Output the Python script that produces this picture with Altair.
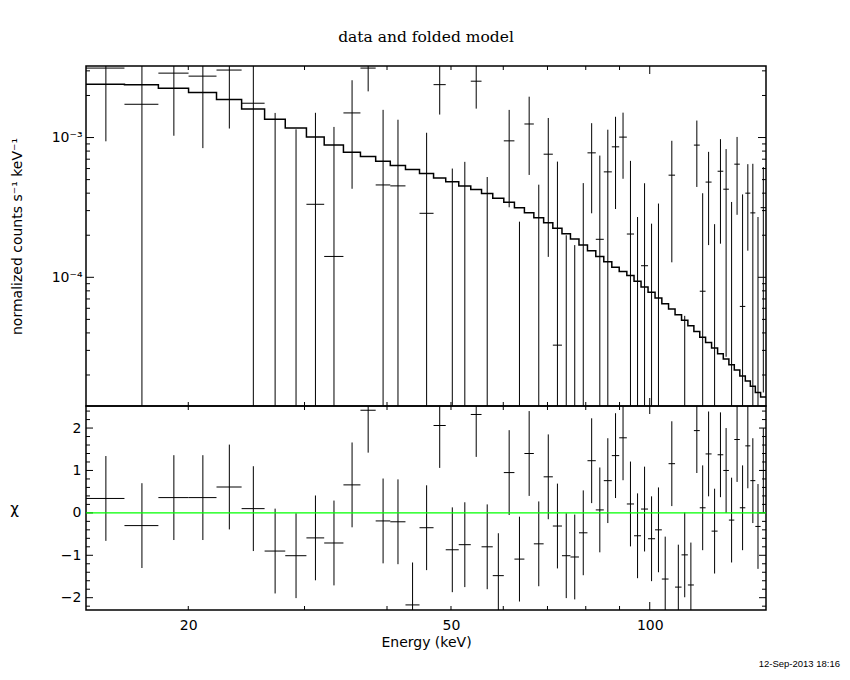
import altair as alt
import numpy as np
import pandas as pd

# ---------------- data ----------------
edges = [14.00, 16.01, 18.02, 20.02, 22.07, 24.09, 26.10, 28.05, 30.20, 32.13,
         34.36, 36.46, 38.45, 40.46, 42.66, 44.80, 47.05, 49.09, 51.37, 53.57,
         55.62, 57.84, 60.11, 62.38, 64.59, 66.75, 69.07, 71.32, 73.63, 75.84,
         78.13, 80.48, 82.85, 85.19, 87.61, 89.90, 92.32, 94.67, 97.01, 99.41,
         101.87, 104.31, 106.78, 109.23, 111.73, 114.22, 116.64, 119.06, 121.50, 124.07,
         126.70, 129.24, 131.79, 134.30, 136.91, 139.56, 142.02, 144.52, 147.21, 150.00]

counts = [3.14e-3, 1.73e-3, 2.89e-3, 2.75e-3, 3.04e-3, 1.76e-3, -2.0e-5, 5.0e-6, 3.33e-4, 1.41e-4,
          1.50e-3, 3.14e-3, 4.58e-4, 4.51e-4, -4.95e-4, 2.87e-4, 2.39e-3, -2.8e-4, -2.1e-4, 2.53e-3,
          -9.8e-5, -7.57e-4, 9.47e-4, -4.8e-4, 1.25e-3, -2.5e-4, 7.6e-4, 3.27e-5, -4.0e-4, -3.8e-4,
          -9.8e-5, 7.77e-4, 1.87e-4, 5.68e-4, 8.58e-4, 1.007e-3, 2.04e-4, -1.1e-4, 1.21e-4, -1.78e-4,
          -1.06e-4, -5.6e-4, 5.38e-4, -5.6e-4, -2.97e-4, -5.5e-4, 8.83e-4, 7.95e-5, 4.8e-4, -1.26e-4,
          5.74e-4, 4.27e-4, -4.2e-5, 6.45e-4, 6.19e-5, 4.0e-4, 2.89e-4, -1.05e-4, 3.15e-4]

errors = [2.2e-3, 2.2e-3, 1.86e-3, 1.91e-3, 1.88e-3, 1.9e-3, 1.52e-3, 1.14e-3, 1.17e-3, 1.05e-3,
          1.07e-3, 1.0e-3, 1.12e-3, 0.89e-3, 5.0e-4, 7.95e-4, 0.93e-3, 8.8e-4, 8.8e-4, 0.92e-3,
          6.2e-4, 7.6e-4, 6.3e-4, 7.3e-4, 7.1e-4, 7.1e-4, 6.2e-4, 6.4e-4, 6.0e-4, 5.5e-4,
          5.7e-4, 4.9e-4, 5.56e-4, 5.7e-4, 5.5e-4, 5.0e-4, 4.77e-4, 3.8e-4, 3.5e-4, 4.2e-4,
          4.43e-4, 4.0e-4, 4.1e-4, 3.5e-4, 3.5e-4, 3.5e-4, 4.4e-4, 3.2e-4, 3.1e-4, 3.66e-4,
          4.0e-4, 4.0e-4, 3.88e-4, 3.65e-4, 3.3e-4, 2.45e-4, 3.6e-4, 3.75e-4, 3.0e-4]

model = [2.41e-3, 2.39e-3, 2.25e-3, 2.10e-3, 1.87e-3, 1.60e-3, 1.35e-3, 1.17e-3, 1.01e-3, 8.83e-4,
         7.86e-4, 7.31e-4, 6.78e-4, 6.30e-4, 5.90e-4, 5.52e-4, 5.14e-4, 4.82e-4, 4.50e-4, 4.25e-4,
         3.98e-4, 3.68e-4, 3.44e-4, 3.15e-4, 2.90e-4, 2.67e-4, 2.46e-4, 2.24e-4, 2.05e-4, 1.88e-4,
         1.70e-4, 1.55e-4, 1.41e-4, 1.29e-4, 1.18e-4, 1.10e-4, 1.03e-4, 9.36e-5, 8.51e-5, 7.81e-5,
         7.12e-5, 6.47e-5, 5.93e-5, 5.40e-5, 4.92e-5, 4.50e-5, 4.10e-5, 3.73e-5, 3.42e-5, 3.12e-5,
         2.84e-5, 2.60e-5, 2.37e-5, 2.17e-5, 1.97e-5, 1.81e-5, 1.66e-5, 1.50e-5, 1.39e-5]

chi = [0.34, -0.30, 0.36, 0.36, 0.61, 0.10, -0.90, -1.01, -0.59, -0.71,
       0.66, 2.42, -0.19, -0.21, -2.17, -0.35, 2.06, -0.87, -0.75, 2.32,
       -0.80, -1.48, 0.95, -1.09, 1.40, -0.73, 0.85, -0.31, -1.01, -1.04,
       -0.47, 1.23, 0.07, 0.76, 1.35, 1.77, 0.21, -0.54, 0.09, -0.61,
       -0.40, -1.56, 1.16, -1.75, -0.99, -1.70, 1.94, 0.12, 1.39, -0.43,
       1.37, 1.00, -0.17, 1.73, 0.12, 1.58, 0.76, -0.32, 1.00]

x_labels = [20, 50, 100]
x_minor = [20, 30, 40, 50, 60, 70, 80, 90]
x_major = [100]
y_labels = [1e-4, 1e-3]
y_minor = [2e-5, 3e-5, 4e-5, 5e-5, 6e-5, 7e-5, 8e-5, 9e-5,
           2e-4, 3e-4, 4e-4, 5e-4, 6e-4, 7e-4, 8e-4, 9e-4, 2e-3, 3e-3]
y_major = [1e-4, 1e-3]
c_labels = [-2, -1, 0, 1, 2]
c_minor = [-2.2, -1.8, -1.6, -1.4, -1.2, -0.8, -0.6, -0.4, -0.2,
           0.2, 0.4, 0.6, 0.8, 1.2, 1.4, 1.6, 1.8, 2.2, 2.4]
c_major = [-2, -1, 0, 1, 2]

EMIN, EMAX = 14.0, 150.0
YMIN, YMAX = 1.2e-5, 3.25e-3
CMIN, CMAX = -2.29, 2.52

W, H1, H2 = 680, 340, 204
FONT = "DejaVu Sans"

# ---------------- tables ----------------
lo = np.array(edges[:-1])
hi = np.array(edges[1:])
df = pd.DataFrame({"lo": lo, "hi": hi, "cen": (lo + hi) / 2,
                   "val": counts, "err": errors, "chi": chi})
df["up"] = df["val"] + df["err"]
df["dn"] = (df["val"] - df["err"]).clip(lower=YMIN / 2)
df["clo"] = df["chi"] - 1
df["chi_hi"] = df["chi"] + 1

hbar = df[(df["val"] > YMIN) & (df["val"] < YMAX)]
vbar = df[df["up"] > YMIN]

step = pd.DataFrame({"e": edges, "m": model + [model[-1]]})

xs = alt.Scale(type="log", domain=[EMIN, EMAX], nice=False)
ys = alt.Scale(type="log", domain=[YMIN, YMAX], nice=False)
cs = alt.Scale(domain=[CMIN, CMAX], nice=False, zero=False)

# shared axis definitions (identical in every layer so they merge)
ax_y_top = alt.Axis(values=y_labels,
                    labelExpr="datum.value < 0.0005 ? '10⁻⁴' : '10⁻³'",
                    ticks=False, domain=False, grid=False,
                    labelFontSize=14, labelPadding=4,
                    minExtent=50, maxExtent=50,
                    title="normalized counts s⁻¹ keV⁻¹",
                    titleFontSize=14, titleFontWeight="normal",
                    titlePadding=12)
ax_x_bot = alt.Axis(values=x_labels, format="d", ticks=False, domain=False,
                    grid=False, labelFontSize=14, labelPadding=8,
                    labelFlush=False,
                    title="Energy (keV)", titleFontSize=14,
                    titleFontWeight="normal", titlePadding=3)
ax_y_bot = alt.Axis(values=c_labels, format="d", ticks=False, domain=False,
                    grid=False, labelFontSize=14, labelPadding=5,
                    minExtent=50, maxExtent=50,
                    title="χ", titleAngle=0, titleX=-72, titleY=H2 / 2,
                    titleAlign="center", titleBaseline="middle",
                    titleFontSize=15, titleFontWeight="normal")


def yticks(vals, L, scale, axis, xaxis):
    d = pd.DataFrame({"v": vals})
    b = alt.Chart(d).mark_rule(color="black", strokeWidth=1)
    yenc = alt.Y("v:Q", scale=scale, axis=axis)
    return [b.encode(y=yenc, x=alt.value(0), x2=alt.value(L)),
            b.encode(y=yenc, x=alt.value(W - L), x2=alt.value(W))]


def xticks(vals, L, height, xaxis):
    d = pd.DataFrame({"v": vals})
    b = alt.Chart(d).mark_rule(color="black", strokeWidth=1)
    xenc = alt.X("v:Q", scale=xs, axis=xaxis)
    return [b.encode(x=xenc, y=alt.value(0), y2=alt.value(L)),
            b.encode(x=xenc, y=alt.value(height - L), y2=alt.value(height))]


# ---------------- top panel ----------------
top_model = alt.Chart(step).mark_line(color="black", strokeWidth=1.5,
                                      interpolate="step-after", clip=True).encode(
    x=alt.X("e:Q", scale=xs, axis=None),
    y=alt.Y("m:Q", scale=ys, axis=ax_y_top),
)
top_h = alt.Chart(hbar).mark_rule(color="black", strokeWidth=1, clip=True).encode(
    x=alt.X("lo:Q", scale=xs, axis=None), x2="hi:Q",
    y=alt.Y("val:Q", scale=ys, axis=ax_y_top))
top_v = alt.Chart(vbar).mark_rule(color="black", strokeWidth=1, clip=True).encode(
    x=alt.X("cen:Q", scale=xs, axis=None),
    y=alt.Y("up:Q", scale=ys, axis=ax_y_top), y2="dn:Q")

top_layers = [top_model, top_h, top_v]
top_layers += yticks(y_minor, 4, ys, ax_y_top, None) + yticks(y_major, 8, ys, ax_y_top, None)
top_layers += xticks(x_minor, 4, H1, None) + xticks(x_major, 8, H1, None)

top = alt.layer(*top_layers).properties(
    width=W, height=H1,
    title=alt.TitleParams("data and folded model", font="DejaVu Serif",
                          fontSize=15.5, fontWeight="normal", anchor="middle",
                          frame="group", baseline="alphabetic", offset=8,
                          color="black"))

# ---------------- bottom panel ----------------
bot_h = alt.Chart(df).mark_rule(color="black", strokeWidth=1, clip=True).encode(
    x=alt.X("lo:Q", scale=xs, axis=ax_x_bot),
    x2="hi:Q",
    y=alt.Y("chi:Q", scale=cs, axis=ax_y_bot),
)
bot_v = alt.Chart(df).mark_rule(color="black", strokeWidth=1, clip=True).encode(
    x=alt.X("cen:Q", scale=xs, axis=ax_x_bot),
    y=alt.Y("clo:Q", scale=cs, axis=ax_y_bot), y2="chi_hi:Q")
zero = alt.Chart(pd.DataFrame({"z": [0.0]})).mark_rule(
    color="#00ff00", strokeWidth=1.2).encode(y=alt.Y("z:Q", scale=cs, axis=ax_y_bot))

bot_layers = [bot_h, bot_v]
bot_layers += yticks(c_minor, 4, cs, ax_y_bot, ax_x_bot) + yticks(c_major, 7, cs, ax_y_bot, ax_x_bot)
bot_layers += xticks(x_minor, 4, H2, ax_x_bot) + xticks(x_major, 8, H2, ax_x_bot)
bot_layers += [zero]

bottom = alt.layer(*bot_layers).properties(
    width=W, height=H2,
    title=alt.TitleParams("12-Sep-2013 18:16", orient="bottom", anchor="end",
                          frame="group", font="Liberation Sans", fontSize=9.5,
                          fontWeight="normal", dx=74, offset=10, color="black"))

chart = alt.vconcat(top, bottom, spacing=0, bounds="flush").properties(
    padding={"left": 0, "top": 21, "right": 0, "bottom": 0},
    background="white"
).configure_view(stroke="black", strokeWidth=1.5).configure_axis(
    labelFont=FONT, titleFont=FONT, labelColor="black", titleColor="black"
)

chart.save("out.html", embed_options={"renderer": "svg", "actions": False})
